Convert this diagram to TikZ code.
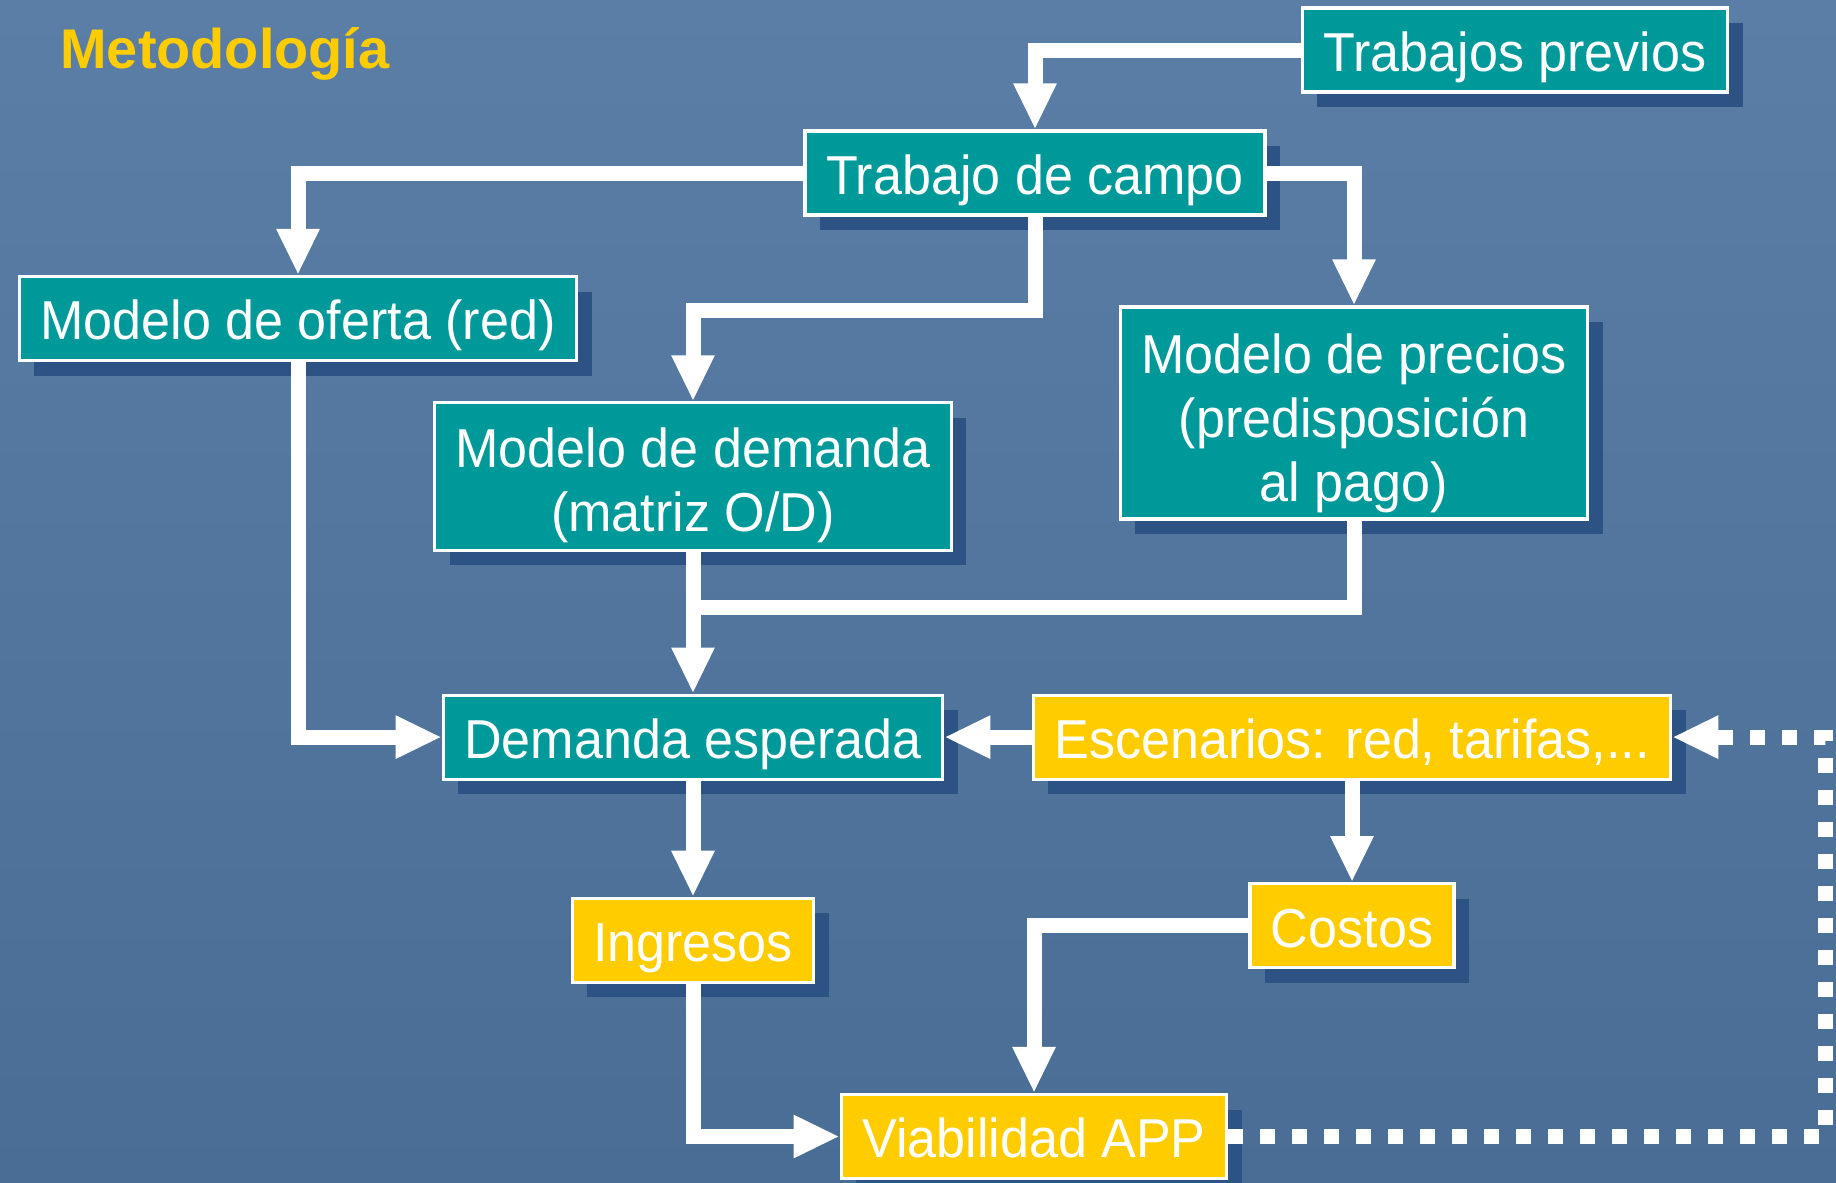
\documentclass[tikz,border=0pt]{standalone}
\usepackage{fontspec}
\setmainfont{Liberation Sans}
\newfontfamily\cajafont[FakeStretch=0.95]{Liberation Sans}
\usetikzlibrary{arrows.meta,shadows}

\definecolor{fondoarriba}{HTML}{5A7EA6}
\definecolor{fondoabajo}{HTML}{4A6D96}
\definecolor{verdeazul}{HTML}{009999}
\definecolor{amarillo}{HTML}{FFCC00}
\definecolor{sombra}{HTML}{2C5383}

\begin{document}
\begin{tikzpicture}[
    caja/.style={draw=white, line width=0.9pt, text=white, inner xsep=0.21cm, inner ysep=0pt,
        minimum height=0.84cm, align=center, font=\cajafont\fontsize{15.6}{18.2}\selectfont,
        drop shadow={shadow xshift=0.15cm, shadow yshift=-0.15cm, fill=sombra, opacity=1}},
    linea/.style={text height=12.6pt, text depth=0.4pt},
    modelo/.style={caja, fill=verdeazul},
    resultado/.style={caja, fill=amarillo},
    flecha/.style={draw=white, line width=0.15cm, -{Triangle[width=0.4cm,length=0.46cm]}},
    puntos/.style={flecha, dash pattern=on 0.15cm off 0.17cm}
  ]
        \useasboundingbox (0, 0) rectangle (18.36, 11.82);
        \fill[top color=fondoarriba, bottom color=fondoabajo] (0, 0) rectangle (18.36, 11.82);

        \node[anchor=base west, text=amarillo, font=\fontsize{15.9}{19}\selectfont\bfseries] (titulo) at (0.48, 11.14) {Metodología};

        \node[modelo, linea] (previos) at (15.15, 11.32) {Trabajos previos};
        \node[modelo, linea] (campo) at (10.35, 10.09) {Trabajo de campo};
        \node[modelo, linea] (oferta) at (2.98, 8.635) {Modelo de oferta (red)};
        \node[modelo, minimum height=1.475cm] (demanda) at (6.93, 7.054) {\rule{0pt}{16pt}Modelo de demanda\\(matriz O/D)};
        \node[modelo, minimum height=2.12cm] (precios) at (13.54, 7.69) {\rule{0pt}{17.4pt}Modelo de precios\\(predisposición\\al pago)};
        \node[modelo, linea] (esperada) at (6.93, 4.449) {Demanda esperada};
        \node[resultado, linea] (escenarios) at (13.52, 4.449) {Escenarios: red, tarifas,...};
        \node[resultado, linea] (ingresos) at (6.93, 2.417) {Ingresos};
        \node[resultado, linea] (costos) at (13.52, 2.563) {Costos};
        \node[resultado, linea] (viabilidad) at (10.34, 0.455) {Viabilidad APP};

        \coordinate (union) at (6.93, 5.75);
        \coordinate (vuelta) at (18.25, 0.455);

        \draw[flecha] (previos.west) -| (campo.north);
        \draw[flecha] (campo.west) -| (oferta.north);
        \draw[flecha] (campo.east) -| (precios.north);
        \draw[flecha] (campo.south) -- ++(0, -0.94) -| (demanda.north);
        \draw[flecha, -] (precios.south) |- (union);
        \draw[flecha] (demanda.south) -- (esperada.north);
        \draw[flecha] (oferta.south) |- (esperada.west);
        \draw[flecha] (escenarios.west) -- (esperada.east);
        \draw[flecha] (escenarios.south) -- (costos.north);
        \draw[flecha] (esperada.south) -- (ingresos.north);
        \draw[flecha] (ingresos.south) |- (viabilidad.west);
        \draw[flecha] (costos.west) -| (viabilidad.north);
        \draw[puntos] (viabilidad.east) -- (vuelta) |- (escenarios.east);
    \end{tikzpicture}
\end{document}
